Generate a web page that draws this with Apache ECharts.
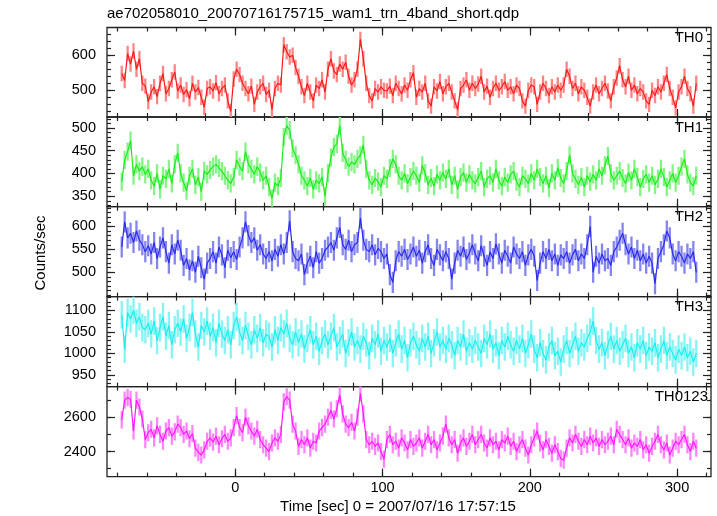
<!DOCTYPE html>
<html><head><meta charset="utf-8">
<script src="https://cdn.jsdelivr.net/npm/echarts@6/dist/echarts.min.js"></script>
<style>html,body{margin:0;padding:0;background:#fff}#c{width:717px;height:516px}</style>
</head><body><div id="c"></div>
<script>
// ---- data ----
const tStart = -77, tStep = 2; // bin centres in seconds
const panelNames = ['TH0', 'TH1', 'TH2', 'TH3', 'TH0123'];
const th0 = [
548,528,605,575,612,560,590,520,512,468,
495,510,482,520,548,490,505,530,552,498,
515,488,502,476,520,495,508,480,452,505,
510,498,522,490,505,515,470,440,532,560,
545,520,505,490,512,460,495,510,520,488,
500,445,505,520,515,630,610,595,600,565,
540,510,485,520,495,470,515,505,530,495,
560,590,555,545,575,560,580,540,515,530,
560,645,590,520,485,470,505,495,510,500,
498,512,485,520,505,490,515,500,530,550,
480,505,495,520,470,455,510,498,525,490,
510,520,495,470,445,505,515,530,500,520,
505,518,540,495,512,480,505,520,500,510,
525,500,510,490,515,505,470,455,500,515,
510,460,495,520,505,485,510,495,515,500,
515,560,540,505,520,490,510,500,480,455,
495,515,490,505,520,498,470,510,535,570,
530,510,540,500,515,490,505,495,470,460,
500,485,510,495,520,545,505,480,450,495,
510,540,505,490,455,520];
const th1 = [
382,430,448,472,395,420,405,415,398,410,
385,372,400,365,395,388,410,378,420,445,
400,380,362,395,410,375,392,360,405,398,
408,415,420,412,405,395,385,378,392,430,
415,405,448,420,410,398,415,402,385,395,
370,345,380,372,390,480,505,495,455,440,
420,395,385,372,390,365,385,378,392,350,
400,435,458,465,505,445,430,415,425,420,
432,440,462,410,385,375,390,382,370,395,
388,412,432,420,395,385,400,378,392,405,
395,380,418,400,375,390,372,398,385,402,
388,410,375,395,365,392,402,380,398,385,
378,392,405,370,388,395,380,410,385,372,
392,380,398,405,382,370,395,388,378,400,
385,410,392,378,395,368,400,385,412,390,
378,405,440,400,388,375,392,370,395,382,
398,385,410,395,418,438,400,385,395,405,
390,378,402,385,410,392,370,388,398,380,
395,375,388,410,392,370,385,400,380,395,
415,432,398,380,372,395];
const th2 = [
555,610,575,585,565,590,570,560,545,558,
540,565,530,555,575,545,520,560,540,570,
548,515,530,505,525,500,535,510,485,520,
530,545,520,555,538,510,548,532,545,528,
555,575,610,580,565,575,548,560,540,530,
545,525,550,535,560,540,565,612,545,530,
525,540,495,520,535,510,545,520,530,548,
555,565,548,575,598,560,550,570,545,560,
565,618,570,550,545,560,538,552,545,530,
540,495,478,525,545,535,550,528,540,555,
535,548,520,545,560,530,515,550,538,525,
545,530,485,520,548,535,555,528,542,560,
540,525,558,535,515,545,530,562,540,520,
548,535,520,555,540,530,545,515,538,550,
535,482,520,545,530,550,525,540,515,538,
530,545,520,538,550,525,540,530,560,600,
500,535,520,540,525,530,515,545,555,570,
585,560,540,555,530,548,525,540,520,535,
520,475,530,545,560,590,575,540,525,545,
535,520,540,530,545,500];
const th3 = [
1090,1010,1095,1080,1100,1070,1085,1060,1055,1070,
1045,1075,1030,1060,1085,1040,1065,1020,1055,1070,
1050,1080,1035,1060,1095,1045,1015,1065,1050,1075,
1040,1060,1025,1070,1045,1030,1055,1020,1065,1085,
1050,1030,1065,1040,1020,1055,1035,1060,1025,1045,
1040,1015,1055,1030,1060,1045,1070,1035,1020,1050,
1025,1045,1010,1035,1055,1020,1040,1005,1030,1045,
1020,1040,1060,1015,1030,1045,1000,1025,1050,1015,
1030,1010,1040,1025,995,1035,1020,1045,1005,1030,
1015,1035,1000,1025,1045,1010,1030,990,1025,1040,
1020,1005,1035,1015,1040,1000,1025,1050,1015,1030,
1010,1035,1020,995,1030,1015,1045,1005,1025,1010,
1030,1015,1000,1035,1020,1045,1010,1025,995,1030,
1015,1040,1020,1005,1030,1010,1035,1000,1020,1045,
1010,990,1025,1000,985,1015,1030,995,1005,980,
1010,1030,1000,1020,1040,1005,1025,1015,1035,1050,
1075,1030,1010,1025,995,1020,1040,1010,1030,1005,
1020,1035,1000,1015,990,1025,1010,1030,995,1015,
1005,1025,990,1010,1030,995,1015,1000,985,1010,
995,1015,990,1005,980,1000];
const th0123 = [
2585,2700,2715,2705,2520,2700,2660,2590,2470,2510,
2530,2480,2550,2500,2460,2520,2540,2490,2515,2560,
2540,2500,2520,2475,2505,2420,2395,2380,2410,2460,
2480,2455,2490,2440,2475,2500,2460,2480,2540,2610,
2540,2510,2600,2550,2520,2490,2530,2470,2440,2420,
2400,2450,2480,2460,2500,2690,2720,2700,2560,2520,
2430,2470,2440,2480,2420,2460,2450,2520,2540,2560,
2600,2640,2590,2650,2730,2620,2560,2540,2570,2520,
2600,2740,2620,2470,2440,2460,2430,2450,2400,2355,
2470,2500,2440,2460,2420,2480,2450,2410,2470,2430,
2450,2480,2420,2460,2500,2440,2470,2410,2450,2490,
2560,2480,2440,2470,2390,2450,2480,2430,2460,2500,
2440,2470,2500,2450,2420,2480,2440,2460,2410,2470,
2450,2490,2430,2460,2400,2440,2470,2420,2380,2440,
2480,2520,2450,2410,2470,2430,2390,2440,2400,2360,
2350,2420,2480,2450,2500,2460,2430,2470,2440,2490,
2450,2480,2430,2470,2440,2460,2490,2440,2530,2500,
2470,2440,2480,2420,2450,2430,2470,2410,2440,2390,
2430,2460,2500,2440,2410,2450,2380,2420,2460,2440,
2470,2500,2440,2400,2460,2420];
const seriesValues = [th0, th1, th2, th3, th0123];
const errors = [22, 20, 23, 32, 50];          // 1-sigma error bar half-lengths
const xLabels = [0, 100, 200, 300];
const xMinorTicks = [-80,-60,-40,-20,0,20,40,60,80,100,120,140,160,180,200,220,240,260,280,300,320];
const yRanges = [[424, 679], [327, 524], [447, 643], [923, 1132], [2254, 2779]];
const yLabels = [[500, 600], [350, 400, 450, 500], [500, 550, 600], [950, 1000, 1050, 1100], [2400, 2600]];
const yMinorTicks = [
  [440,460,480,500,520,540,560,580,600,620,640,660],
  [330,340,350,360,370,380,390,400,410,420,430,440,450,460,470,480,490,500,510,520],
  [450,460,470,480,490,500,510,520,530,540,550,560,570,580,590,600,610,620,630,640],
  [930,940,950,960,970,980,990,1000,1010,1020,1030,1040,1050,1060,1070,1080,1090,1100,1110,1120,1130],
  [2300,2400,2500,2600,2700]
];

// ---- styles / layout ----
const XMIN = -87, XMAX = 323;
const lineColors = ['#ff1a1a', '#1aee1a', '#2a2aee', '#1aeeee', '#ff1aff'];
const errColors  = ['#ff8585', '#85f485', '#8585f0', '#85f4f4', '#ff85ff'];
const FONT = "'Liberation Sans', Arial, Helvetica, sans-serif";
const gridLeft = 107, gridRight = 6;
const tops = [27.5, 117, 206.7, 296.6, 386.6];
const heights = [89.5, 89.7, 89.9, 90, 90];
const fmt = v => String(v);

const times = seriesValues[0].map((_, i) => tStart + i * tStep);

const grids = [], xAxes = [], yAxes = [], series = [], graphics = [];
const tickStyle = { color: '#222', width: 1.2 };
for (let p = 0; p < 5; p++) {
  grids.push({ left: gridLeft, right: gridRight, top: tops[p], height: heights[p],
    show: true, borderColor: '#222', borderWidth: 1.3, backgroundColor: 'transparent' });
  const xBase = { type: 'value', gridIndex: p, min: XMIN, max: XMAX,
    splitLine: { show: false }, axisLine: { show: false, onZero: false } };
  const isBottom = p === 4;
  xAxes.push(Object.assign({}, xBase, { position: 'bottom',
    axisTick: { show: true, inside: true, length: 8, customValues: xLabels, lineStyle: tickStyle },
    axisLabel: { show: isBottom, customValues: xLabels, formatter: fmt, margin: 4, color: '#000', fontSize: 14.5, fontFamily: FONT } }));
  xAxes.push(Object.assign({}, xBase, { position: 'bottom',
    axisTick: { show: true, inside: true, length: 4, customValues: xMinorTicks, lineStyle: tickStyle },
    axisLabel: { show: false } }));
  xAxes.push(Object.assign({}, xBase, { position: 'top',
    axisTick: { show: true, inside: true, length: 8, customValues: xLabels, lineStyle: tickStyle },
    axisLabel: { show: false } }));
  xAxes.push(Object.assign({}, xBase, { position: 'top',
    axisTick: { show: true, inside: true, length: 4, customValues: xMinorTicks, lineStyle: tickStyle },
    axisLabel: { show: false } }));

  const yBase = { type: 'value', gridIndex: p, min: yRanges[p][0], max: yRanges[p][1],
    splitLine: { show: false }, axisLine: { show: false, onZero: false } };
  yAxes.push(Object.assign({}, yBase, { position: 'left',
    axisTick: { show: true, inside: true, length: 8, customValues: yLabels[p], lineStyle: tickStyle },
    axisLabel: { show: true, customValues: yLabels[p], formatter: fmt, margin: 11, color: '#000', fontSize: 14.5, fontFamily: FONT } }));
  yAxes.push(Object.assign({}, yBase, { position: 'left',
    axisTick: { show: true, inside: true, length: 4, customValues: yMinorTicks[p], lineStyle: tickStyle },
    axisLabel: { show: false } }));
  yAxes.push(Object.assign({}, yBase, { position: 'right',
    axisTick: { show: true, inside: true, length: 8, customValues: yLabels[p], lineStyle: tickStyle },
    axisLabel: { show: false } }));
  yAxes.push(Object.assign({}, yBase, { position: 'right',
    axisTick: { show: true, inside: true, length: 4, customValues: yMinorTicks[p], lineStyle: tickStyle },
    axisLabel: { show: false } }));

  const vals = seriesValues[p], e = errors[p];
  const ecol = errColors[p];
  series.push({
    type: 'custom', xAxisIndex: 4 * p, yAxisIndex: 4 * p, clip: true, silent: true,
    encode: { x: 0, y: [1, 2] },
    data: times.map((t, i) => [t, vals[i] - e, vals[i] + e]),
    renderItem: function (params, api) {
      const x = api.value(0);
      const a = api.coord([x, api.value(1)]);
      const b = api.coord([x, api.value(2)]);
      return { type: 'line', shape: { x1: a[0], y1: a[1], x2: b[0], y2: b[1] },
        style: { stroke: ecol, lineWidth: 2.3 } };
    },
    z: 2
  });
  series.push({
    type: 'line', xAxisIndex: 4 * p, yAxisIndex: 4 * p, showSymbol: false,
    data: times.map((t, i) => [t, vals[i]]), clip: true, silent: true,
    lineStyle: { color: lineColors[p], width: 1.2 }, itemStyle: { color: lineColors[p] }, z: 3
  });

  graphics.push({ type: 'text', right: p === 4 ? 9 : 14, top: tops[p] + 3,
    style: { text: panelNames[p], font: '15px ' + FONT, fill: '#000' } });
}

graphics.push({ type: 'text', left: 107, top: 6,
  style: { text: 'ae702058010_20070716175715_wam1_trn_4band_short.qdp', font: '15px ' + FONT, fill: '#000' } });
graphics.push({ type: 'text', x: 398, y: 507,
  style: { text: 'Time [sec] 0 = 2007/07/16 17:57:15', font: '15px ' + FONT, fill: '#000', align: 'center', verticalAlign: 'middle' } });
graphics.push({ type: 'text', x: 41, y: 253, rotation: Math.PI / 2,
  style: { text: 'Counts/sec', font: '15px ' + FONT, fill: '#000', align: 'center', verticalAlign: 'middle' } });

const chart = echarts.init(document.getElementById('c'), null, { renderer: 'canvas' });
chart.setOption({
  animation: false,
  backgroundColor: '#fff',
  grid: grids, xAxis: xAxes, yAxis: yAxes, series: series, graphic: graphics
});
</script></body></html>
